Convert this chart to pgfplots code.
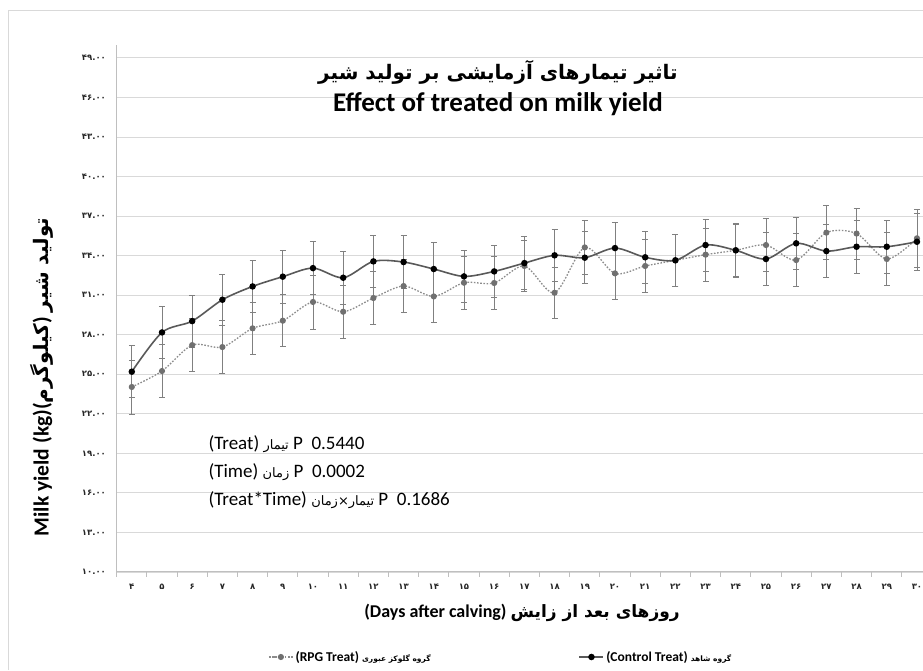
\documentclass[border=0pt]{standalone}
\usepackage{fontspec}
\usepackage{pgfplots}
\usepackage{pgfplotstable}
\pgfplotsset{compat=1.18}
\setmainfont{Carlito}
\newfontfamily\fa[Script=Arabic]{DejaVu Sans}
\TeXXeTstate=1
\definecolor{ctrl}{HTML}{595959}
\definecolor{rpg}{HTML}{8C8C8C}
\definecolor{rpgm}{HTML}{707070}
\definecolor{gridc}{HTML}{D9D9D9}
\definecolor{axc}{HTML}{BFBFBF}
\definecolor{errc}{HTML}{808080}

\pgfplotstableread{
day c ce r re
4 25.19 1.97 24.03 2.05
5 28.17 1.95 25.24 2.00
6 29.03 1.97 27.21 2.00
7 30.65 1.95 27.06 2.00
8 31.66 1.97 28.48 1.97
9 32.40 2.00 29.06 1.97
10 33.05 2.00 30.48 2.05
11 32.32 2.00 29.74 2.00
12 33.56 1.97 30.78 2.00
13 33.51 2.00 31.69 2.00
14 32.98 2.00 30.90 2.00
15 32.42 2.00 31.94 2.00
16 32.80 2.00 31.92 2.00
17 33.43 2.00 33.21 1.95
18 34.02 1.97 31.18 1.95
19 33.84 1.97 34.62 2.07
20 34.57 1.97 32.65 1.95
21 33.87 2.00 33.21 2.00
22 33.64 2.00 33.64 2.00
23 34.80 1.97 34.07 2.00
24 34.40 2.05 34.40 2.00
25 33.74 2.00 34.80 2.00
26 34.93 2.00 33.66 2.00
27 34.34 2.00 35.74 2.05
28 34.67 2.00 35.67 1.95
29 34.67 2.00 33.74 2.00
30 35.05 2.15 35.31 2.20
}\data

\begin{document}
\begin{tikzpicture}
\useasboundingbox (-116.7pt,-98.1pt) rectangle ++(923pt,670pt);
\begin{axis}[
  anchor=south west,
  width=806.3pt, height=527.2pt, scale only axis,
  xmin=3.5, xmax=30.2, ymin=10, ymax=50,
  axis x line*=bottom, axis y line*=left,
  axis line style={axc, line width=0.9pt},
  xtick={4,...,30},
  xticklabels={۴,۵,۶,۷,۸,۹,۱۰,۱۱,۱۲,۱۳,۱۴,۱۵,۱۶,۱۷,۱۸,۱۹,۲۰,۲۱,۲۲,۲۳,۲۴,۲۵,۲۶,۲۷,۲۸,۲۹,۳۰},
  minor xtick={3.5,4.5,...,29.5},
  x tick style={draw=none},
  minor x tick style={draw=axc, line width=0.9pt},
  tick align=outside,
  minor tick length=5pt,
  ytick={10,13,...,49},
  yticklabels={۱۰.۰۰,۱۳.۰۰,۱۶.۰۰,۱۹.۰۰,۲۲.۰۰,۲۵.۰۰,۲۸.۰۰,۳۱.۰۰,۳۴.۰۰,۳۷.۰۰,۴۰.۰۰,۴۳.۰۰,۴۶.۰۰,۴۹.۰۰},
  y tick style={draw=none},
  ymajorgrids,
  major grid style={gridc, line width=0.8pt},
  ticklabel style={font=\fa\bfseries\fontsize{8.5}{10}\selectfont, text=black!85},
  xticklabel style={yshift=-4pt},
  yticklabel style={xshift=-3pt},
  legend columns=2,
  legend style={at={(axis description cs:0.1877,-0.1614)}, anchor=west, draw=none, fill=none,
    font=\bfseries\fontsize{13.5}{15}\selectfont, inner sep=0pt,
    /tikz/every even column/.append style={column sep=146pt}},
  legend cell align=left,
  legend image code/.code={\draw[mark repeat=2, mark phase=2, #1] plot coordinates {(0pt,0pt) (12pt,0pt) (24pt,0pt)};},
]
\addplot[rpg, line width=1.3pt, dash pattern=on 1.6pt off 1.6pt, smooth, tension=0.5,
  mark=*, mark size=2.4pt, mark options={solid, fill=rpgm, draw=rpgm},
  error bars/.cd, y dir=both, y explicit,
  error bar style={errc, line width=0.7pt, solid},
  error mark options={rotate=90, errc, mark size=3pt, line width=0.7pt, solid}]
  table[x=day, y=r, y error=re]{\data};
\addlegendentry{(RPG Treat)\ {\fa\fontsize{7.5}{9}\selectfont\beginR گروه گلوکز عبوری\endR}}
\addplot[ctrl, line width=1.6pt, smooth, tension=0.5,
  mark=*, mark size=2.4pt, mark options={solid, fill=black, draw=black},
  error bars/.cd, y dir=both, y explicit,
  error bar style={errc, line width=0.7pt, solid},
  error mark options={rotate=90, errc, mark size=3pt, line width=0.7pt, solid}]
  table[x=day, y=c, y error=ce]{\data};
\addlegendentry{(Control Treat)\ {\fa\fontsize{7.5}{9}\selectfont\beginR گروه شاهد\endR}}
\end{axis}
\begin{scope}[shift={(-116.7pt,-98.1pt)}]
\draw[gridc, line width=0.8pt] (8pt,0pt) -- (8pt,660pt) -- (923pt,660pt);
% titles and labels
\node[font=\fa\bfseries\fontsize{20}{24}\selectfont] at (498pt,598pt) {\beginR تاثیر تیمارهای آزمایشی بر تولید شیر\endR};
\node[font=\bfseries\fontsize{27}{30}\selectfont] at (498pt,566pt) {Effect of treated on milk yield};
\node[rotate=90, font=\bfseries\fontsize{21.5}{24}\selectfont] at (42pt,293pt) {Milk yield (kg)({\fa\fontsize{20}{24}\selectfont\beginR کیلوگرم\endR}) {\fa\fontsize{20}{24}\selectfont\beginR تولید شیر\endR}};
\node[font=\bfseries\fontsize{18}{20}\selectfont] at (522pt,57pt) {(Days after calving) {\fa\fontsize{17}{20}\selectfont\beginR روزهای بعد از زایش\endR}};
% statistics
\node[anchor=base west, font=\fontsize{19}{22}\selectfont] at (205pt,221pt) {(Treat) {\fa\fontsize{13}{16}\selectfont\beginR تیمار\endR} P\ \ 0.5440};
\node[anchor=base west, font=\fontsize{19}{22}\selectfont] at (205pt,193pt) {(Time) {\fa\fontsize{13}{16}\selectfont\beginR زمان\endR} P\ \ 0.0002};
\node[anchor=base west, font=\fontsize{19}{22}\selectfont] at (205pt,165pt) {(Treat*Time) {\fa\fontsize{13}{16}\selectfont\beginR تیمار×زمان\endR} P\ \ 0.1686};
\end{scope}
\end{tikzpicture}
\end{document}
